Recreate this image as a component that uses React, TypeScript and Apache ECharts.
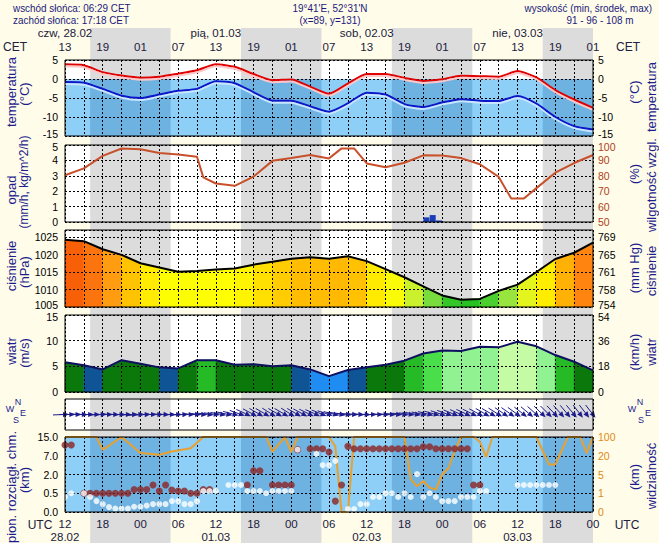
import React, { useEffect, useRef } from "react";
import * as echarts from "echarts";

// ---------- DATA ----------
const hours = [0, 3, 6, 9, 12, 15, 18, 21, 24, 27, 30, 33, 36, 39, 42, 45, 48, 51, 54, 57, 60, 63, 66, 69, 72, 75, 78, 81, 84];
const airTemp = [3.85, 3.6, 1.8, 0.9, 0.35, 0.6, 1.4, 2.3, 3.9, 3.2, 1.3, -0.3, -0.1, -2.0, -3.9, -1.2, 1.3, 1.3, 0.3, -0.5, -0.05, 0.85, 0.75, 0.6, 2.1, 0.4, -2.9, -5.4, -7.6];
const dewPoint = [-0.8, -1.0, -2.6, -4.4, -5.0, -4.1, -3.1, -2.6, -0.6, -1.1, -3.5, -5.7, -5.7, -7.2, -8.6, -6.4, -3.6, -4.1, -6.6, -7.4, -6.2, -5.3, -5.7, -5.8, -4.5, -6.5, -10.0, -12.4, -13.3];
const humHours = [0, 3, 6, 9, 12, 15, 18, 21, 22, 24, 27, 30, 33, 36, 39, 42, 44, 46, 48, 51, 54, 57, 60, 63, 66, 69, 71, 73, 75, 78, 81, 84];
const humidity = [80.4, 84.8, 92.9, 97.7, 97.2, 94.8, 93.9, 92.4, 79, 75, 73.5, 79.5, 89.7, 91.5, 93.5, 91.3, 97.8, 97.8, 88, 85.5, 88.5, 93.3, 93.2, 91.5, 87.5, 79.3, 65.2, 65.2, 72, 82, 88.3, 93.5];
const precipHours = [57.5, 58.5, 59.5];
const precipMm = [0.3, 0.45, 0.1];
const pressure = [1024.2, 1023.8, 1021.5, 1019.9, 1017.5, 1016.3, 1015.1, 1015.3, 1015.7, 1016.0, 1017.1, 1017.9, 1018.8, 1019.2, 1018.8, 1019.5, 1018.1, 1015.8, 1013.5, 1010.9, 1008.3, 1007.1, 1007.3, 1009.6, 1011.4, 1015.0, 1018.7, 1020.5, 1023.4];
const windSpeed = [5.8, 5.2, 4.4, 6.2, 5.5, 4.8, 4.6, 6.2, 6.2, 5.3, 5.4, 5.0, 5.2, 4.4, 3.1, 4.3, 4.8, 5.3, 6.1, 7.5, 8.1, 8.0, 8.8, 8.7, 9.8, 8.9, 7.2, 5.9, 4.2];
const dirHours = [0, 1, 2, 3, 4, 5, 6, 7, 8, 9, 10, 11, 12, 13, 14, 15, 16, 17, 18, 19, 20, 21, 22, 23, 24, 25, 26, 27, 28, 29, 30, 31, 32, 33, 34, 35, 36, 37, 38, 39, 40, 41, 42, 43, 44, 45, 46, 47, 48, 49, 50, 51, 52, 53, 54, 55, 56, 57, 58, 59, 60, 61, 62, 63, 64, 65, 66, 67, 68, 69, 70, 71, 72, 73, 74, 75, 76, 77, 78, 79, 80, 81, 82, 83, 84];
const windDir = [268, 270, 270, 272, 270, 270, 268, 270, 272, 270, 270, 268, 266, 268, 270, 270, 272, 270, 270, 268, 270, 272, 274, 276, 278, 280, 282, 285, 290, 295, 298, 300, 300, 302, 300, 300, 302, 300, 298, 296, 294, 292, 288, 284, 280, 276, 274, 272, 272, 270, 270, 272, 272, 274, 276, 278, 280, 282, 284, 286, 288, 290, 292, 294, 295, 296, 298, 300, 300, 302, 304, 305, 306, 308, 310, 312, 314, 315, 316, 318, 320, 320, 322, 322, 322];
const visHours = [0, 5, 6, 9, 12, 15, 17, 20, 22, 32, 33, 35, 36, 37, 42, 43, 44, 45, 46, 54, 55, 56, 57, 58, 59, 60, 61, 62, 63, 65, 66, 67, 68, 75, 77, 78, 80, 82, 83, 84];
const visKm = [100, 100, 45, 100, 32, 24, 38, 52, 100, 100, 38, 100, 36, 100, 100, 60, 0, 0, 100, 100, 4, 2.5, 3.6, 2.2, 1.8, 5, 10, 40, 100, 100, 80, 19, 100, 100, 13, 13, 100, 100, 31, 100];
const cloudTopHours = [0, 1, 3, 4, 5, 6, 7, 8, 9, 10, 11, 12, 13, 14, 15, 16, 17, 18, 19, 20, 21, 22, 23, 29, 30, 31, 33, 34, 35, 36, 37, 39, 40, 41, 42, 43, 44, 45, 46, 47, 48, 49, 50, 51, 52, 53, 54, 55, 56, 57, 58, 59, 60, 61, 62, 63, 64, 65, 66];
const cloudTopKm = [11.6, 11.6, 0.5, 0.5, 0.5, 0.5, 0.5, 0.5, 0.5, 0.5, 0.8, 0.8, 0.8, 1.16, 0.68, 1.16, 0.75, 0.68, 0.68, 0.5, 0.5, 0.8, 0.8, 1.16, 3.0, 3.0, 1.16, 1.16, 1.16, 1.16, 9.6, 10, 10, 10, 8.6, 0.29, 1.16, 11, 10, 10, 10, 10, 10, 10, 10, 10, 10, 10, 10, 10.8, 10.8, 10, 10, 10, 10, 10, 10, 1.16, 1.16];
const cloudBaseHours = [0, 1, 3, 4, 5, 6, 7, 8, 9, 10, 11, 12, 13, 14, 15, 16, 17, 18, 19, 20, 21, 22, 23, 24, 26, 27, 28, 29, 30, 31, 32, 33, 34, 35, 36, 37, 40, 41, 42, 43, 45, 46, 47, 48, 49, 50, 51, 52, 53, 54, 55, 56, 57, 58, 59, 60, 61, 62, 63, 64, 65, 66, 67, 72, 73, 74, 75, 76, 77, 78];
const cloudBaseKm = [0.4, 0.5, 0.5, 0.4, 0.29, 0.21, 0.13, 0.09, 0.09, 0.09, 0.14, 0.14, 0.17, 0.21, 0.21, 0.21, 0.29, 0.29, 0.21, 0.21, 0.29, 0.68, 0.68, 0.68, 1.16, 1.16, 1.16, 0.68, 0.68, 0.68, 0.5, 0.68, 0.68, 0.68, 0.68, 9.6, 7.8, 4.5, 4.5, 5.6, 0.08, 0.08, 0.21, 0.21, 0.4, 0.4, 0.5, 0.5, 0.4, 0.5, 0.4, 2.1, 0.4, 0.5, 0.4, 0.29, 0.29, 0.29, 0.4, 0.4, 0.4, 0.68, 0.68, 1.16, 1.16, 1.16, 1.16, 1.16, 1.16, 1.16];
const nightStart = [4.0, 28.0, 52.0, 76.0];
const nightEnd = [16.8, 40.8, 64.8, 88.8];
const dayLabelsTop = ["czw, 28.02", "pią, 01.03", "sob, 02.03", "nie, 03.03"];
const dayLabelsBottom = ["28.02", "01.03", "02.03", "03.03"];
const cloudTickValues = [0, 0.5, 2, 7, 15];
const cloudTickLabels = ["0.0", "0.5", "2.0", "7.0", "15.0"];
const visTickValues = [0, 1, 5, 20, 100];
const visTickLabels = ["0", "1", "5", "20", "100"];

// ---------- STYLE ----------
const BG = "#fffcea";
const palette = ["#ffffff", "#dcdcdc", "#8dcff6", "#6eb2e2"];
const SANS = "'Liberation Sans', Arial, sans-serif";
const NAVY = "#1c1c8c";
const TMAX = 84;

const pad = (n: number) => (n < 10 ? "0" + n : "" + n);

function toLevel(v: number, ticks: number[]) {
  for (let i = 0; i < ticks.length - 1; i++) {
    if (v <= ticks[i + 1]) return i + (v - ticks[i]) / (ticks[i + 1] - ticks[i]);
  }
  return ticks.length - 1;
}

function bgRects(yMin: number, yMax: number, blueTop: number | null) {
  const items: number[][] = [];
  const cl = (v: number) => Math.min(TMAX, Math.max(0, v));
  if (blueTop === null || blueTop < yMax) {
    items.push([0, TMAX, yMin, yMax, 0]);
    nightStart.forEach((s, i) => items.push([cl(s), cl(nightEnd[i]), yMin, yMax, 1]));
  }
  if (blueTop !== null) {
    items.push([0, TMAX, yMin, blueTop, 2]);
    nightStart.forEach((s, i) => items.push([cl(s), cl(nightEnd[i]), yMin, blueTop, 3]));
  }
  return items;
}

const rectRender = (params: any, api: any) => {
  const a = api.coord([api.value(0), api.value(3)]);
  const b = api.coord([api.value(1), api.value(2)]);
  return {
    type: "rect",
    shape: { x: a[0], y: a[1], width: b[0] - a[0], height: b[1] - a[1] },
    style: { fill: palette[api.value(4)] },
  };
};

const areaRender = (base: number) => (params: any, api: any) => {
  const p0 = api.coord([api.value(0), api.value(1)]);
  const p1 = api.coord([api.value(2), api.value(3)]);
  const b1 = api.coord([api.value(2), base]);
  const b0 = api.coord([api.value(0), base]);
  const c = api.visual("color");
  return {
    type: "polygon",
    shape: { points: [p0, p1, b1, b0] },
    style: { fill: c, stroke: c, lineWidth: 0.6 },
  };
};

const arrowRender = (params: any, api: any) => {
  const c = api.coord([api.value(0), api.value(1)]);
  const th = ((api.value(2) + 180) * Math.PI) / 180;
  const dx = Math.sin(th);
  const dy = -Math.cos(th);
  const tail = [c[0] - 12 * dx, c[1] - 12 * dy];
  const tip = [c[0] + 4 * dx, c[1] + 4 * dy];
  const hb = [c[0] - 2 * dx, c[1] - 2 * dy];
  const px = -dy;
  const py = dx;
  return {
    type: "group",
    children: [
      { type: "line", shape: { x1: tail[0], y1: tail[1], x2: hb[0], y2: hb[1] }, style: { stroke: NAVY, lineWidth: 1 } },
      {
        type: "polygon",
        shape: { points: [tip, [hb[0] + 2.6 * px, hb[1] + 2.6 * py], [hb[0] - 2.6 * px, hb[1] - 2.6 * py]] },
        style: { fill: NAVY },
      },
    ],
  };
};

function segments(vals: number[]) {
  const out: number[][] = [];
  for (let i = 0; i < hours.length - 1; i++) {
    out.push([hours[i], vals[i], hours[i + 1], vals[i + 1], (vals[i] + vals[i + 1]) / 2]);
  }
  return out;
}

// label formatter that nudges an edge label away from the neighbouring panel
function edgeFmt(edge: "min" | "max" | null, edgeVal: number, fmt: (v: number) => string) {
  return (v: number) => {
    const s = fmt(v);
    if (s === "") return "";
    if (edge === "min" && v === edgeVal) return `{lo|${s}}`;
    if (edge === "max" && v === edgeVal) return `{hi|${s}}`;
    return s;
  };
}
const edgeRich = { lo: { padding: [0, 0, 5, 0] }, hi: { padding: [4, 0, 0, 0] } };

function buildOption() {
  const L = 65;
  const R = 66;
  const panels = [
    { top: 60, height: 76 },
    { top: 145, height: 77 },
    { top: 230, height: 77 },
    { top: 315, height: 77 },
    { top: 399, height: 31 },
    { top: 437, height: 77 },
  ];
  const grid: any[] = panels.map((p) => ({
    left: L, right: R, top: p.top, height: p.height,
    show: true, backgroundColor: "transparent", borderColor: "#000", borderWidth: 1, z: 10,
  }));
  grid.push({ left: L, right: R, top: 28, height: 515, show: false });

  const split = { show: true, lineStyle: { color: "#000", type: [2, 2] as any, width: 1 } };
  const tickLbl = { fontFamily: SANS, fontSize: 10.5, color: "#000", rich: edgeRich };
  const id = (v: number) => String(v);

  const xAxis: any[] = [];
  for (let i = 0; i < 7; i++) {
    const ax: any = {
      gridIndex: i, type: "value", min: 0, max: TMAX, interval: 3, z: 3,
      axisLine: { show: false }, axisTick: { show: false },
      axisLabel: { show: false },
      splitLine: i === 6 ? { show: false } : split,
    };
    if (i === 0) {
      ax.position = "top";
      ax.axisLabel = {
        show: true, margin: 6, fontFamily: SANS, fontSize: 11.5, color: "#202040", lineHeight: 14,
        formatter: (v: number) => {
          if (v % 6 !== 0) return "";
          const s = pad((13 + v) % 24);
          if (v % 24 === 0 && v / 24 < dayLabelsTop.length) return dayLabelsTop[v / 24] + "\n" + s;
          return s;
        },
      };
    }
    if (i === 5) {
      ax.axisLabel = {
        show: true, margin: 5, fontFamily: SANS, fontSize: 11.5, color: "#202040", lineHeight: 13,
        formatter: (v: number) => {
          if (v % 6 !== 0) return "";
          const s = pad((12 + v) % 24);
          if (v % 24 === 0 && v / 24 < dayLabelsBottom.length) return s + "\n" + dayLabelsBottom[v / 24];
          return s;
        },
      };
    }
    xAxis.push(ax);
  }

  const yBase = { type: "value", z: 3, axisLine: { show: false }, axisTick: { show: false } };
  const p5 = (v: number) => (v % 5 === 0 ? String(v) : "");
  const mm = (v: number) => (v % 5 === 0 ? String(Math.round(v * 0.750062)) : "");
  const yAxis: any[] = [
    { ...yBase, gridIndex: 0, min: -15, max: 5, interval: 5, splitLine: split, axisLabel: { ...tickLbl, margin: 7, formatter: edgeFmt("min", -15, id) } },
    { ...yBase, gridIndex: 0, position: "right", min: -15, max: 5, interval: 5, splitLine: { show: false }, axisLabel: { ...tickLbl, margin: 5, formatter: edgeFmt("min", -15, id) } },
    { ...yBase, gridIndex: 1, min: 0, max: 5, interval: 1, splitLine: split, axisLabel: { ...tickLbl, margin: 7, formatter: edgeFmt("max", 5, id) } },
    { ...yBase, gridIndex: 1, position: "right", min: 50, max: 100, interval: 10, splitLine: { show: false }, axisLabel: { ...tickLbl, color: "#b0401c", margin: 5, formatter: edgeFmt("max", 100, id) } },
    { ...yBase, gridIndex: 2, min: 1005, max: 1027, interval: 5, splitLine: split, axisLabel: { ...tickLbl, margin: 7, formatter: edgeFmt("min", 1005, p5) } },
    { ...yBase, gridIndex: 2, position: "right", min: 1005, max: 1027, interval: 5, splitLine: { show: false }, axisLabel: { ...tickLbl, margin: 5, formatter: edgeFmt("min", 1005, mm) } },
    { ...yBase, gridIndex: 3, min: 0, max: 15, interval: 5, splitLine: split, axisLabel: { ...tickLbl, margin: 7, formatter: edgeFmt("max", 15, id) } },
    { ...yBase, gridIndex: 3, position: "right", min: 0, max: 54, interval: 18, splitLine: { show: false }, axisLabel: { ...tickLbl, margin: 5, formatter: edgeFmt("max", 54, id) } },
    { ...yBase, gridIndex: 4, min: -1, max: 1, show: false },
    {
      ...yBase, gridIndex: 5, min: 0, max: 4, interval: 1, splitLine: split,
      axisLabel: { ...tickLbl, margin: 7, formatter: (v: number) => cloudTickLabels[v] ?? "" },
    },
    {
      ...yBase, gridIndex: 5, position: "right", min: 0, max: 4, interval: 1, splitLine: { show: false },
      axisLabel: { ...tickLbl, color: "#e08a10", margin: 5, formatter: (v: number) => visTickLabels[v] ?? "" },
    },
    { ...yBase, gridIndex: 6, min: 0, max: 1, show: false },
  ];

  const series: any[] = [];
  const bgNight: number[][] = nightStart.map((s, i) => [s, Math.min(TMAX, nightEnd[i]), 0, 1, 1]);
  series.push({ type: "custom", xAxisIndex: 6, yAxisIndex: 11, renderItem: rectRender, data: bgNight, z: 0, silent: true, encode: { x: [0, 1], y: [2, 3] } });

  const panelBgs: [number, number, number, number, number | null][] = [
    [0, 0, -15, 5, 0],
    [1, 2, 0, 5, null],
    [2, 4, 1005, 1027, null],
    [3, 6, 0, 15, null],
    [4, 8, -1, 1, null],
    [5, 9, 0, 4, 4],
  ];
  panelBgs.forEach(([xi, yi, mn, mx, blue]) => {
    series.push({
      type: "custom", xAxisIndex: xi, yAxisIndex: yi, renderItem: rectRender,
      data: bgRects(mn, mx, blue), z: 1, silent: true, encode: { x: [0, 1], y: [2, 3] },
    });
  });

  series.push({
    type: "line", xAxisIndex: 0, yAxisIndex: 0, data: hours.map((h, i) => [h, airTemp[i]]), symbol: "none", z: 5, smooth: 0.2,
    lineStyle: { color: "#e00000", width: 2, shadowColor: "rgba(255,200,200,1)", shadowOffsetY: 2, shadowBlur: 0 },
  });
  series.push({
    type: "line", xAxisIndex: 0, yAxisIndex: 0, data: hours.map((h, i) => [h, dewPoint[i]]), symbol: "none", z: 5, smooth: 0.2,
    lineStyle: { color: "#0a14c8", width: 2, shadowColor: "rgba(200,230,255,1)", shadowOffsetY: 2, shadowBlur: 0 },
  });
  series.push({
    type: "bar", xAxisIndex: 1, yAxisIndex: 2, data: precipHours.map((h, i) => [h, precipMm[i]]),
    barWidth: 6, itemStyle: { color: "#1a3cb8" }, z: 4,
  });
  series.push({
    type: "line", xAxisIndex: 1, yAxisIndex: 3, data: humHours.map((h, i) => [h, humidity[i]]), symbol: "none", z: 5,
    lineStyle: { color: "#c8502a", width: 2 },
  });
  const pressFillIdx = series.length;
  series.push({
    type: "custom", xAxisIndex: 2, yAxisIndex: 4, renderItem: areaRender(1005), data: segments(pressure), z: 2, silent: true,
    encode: { x: [0, 2], y: [1, 3] },
  });
  series.push({
    type: "line", xAxisIndex: 2, yAxisIndex: 4, data: hours.map((h, i) => [h, pressure[i]]), symbol: "none", z: 5,
    lineStyle: { color: "#000", width: 2 },
  });
  const windFillIdx = series.length;
  series.push({
    type: "custom", xAxisIndex: 3, yAxisIndex: 6, renderItem: areaRender(0), data: segments(windSpeed), z: 2, silent: true,
    encode: { x: [0, 2], y: [1, 3] },
  });
  series.push({
    type: "line", xAxisIndex: 3, yAxisIndex: 6, data: hours.map((h, i) => [h, windSpeed[i]]), symbol: "none", z: 5,
    lineStyle: { color: "#101060", width: 2 },
  });
  series.push({
    type: "custom", xAxisIndex: 4, yAxisIndex: 8, renderItem: arrowRender, data: dirHours.map((h, i) => [h, 0, windDir[i]]),
    z: 5, silent: true, clip: false, encode: { x: 0, y: 1 },
  });
  series.push({
    type: "line", xAxisIndex: 5, yAxisIndex: 10, data: visHours.map((h, i) => [h, toLevel(visKm[i], visTickValues)]),
    symbol: "none", z: 5, lineStyle: { color: "#e8a030", width: 2 },
  });
  series.push({
    type: "scatter", xAxisIndex: 5, yAxisIndex: 9, data: cloudTopHours.map((h, i) => [h, toLevel(cloudTopKm[i], cloudTickValues)]),
    symbol: "circle", symbolSize: 7, itemStyle: { color: "#8c2424" }, z: 6,
  });
  series.push({
    type: "scatter", xAxisIndex: 5, yAxisIndex: 9, data: cloudBaseHours.map((h, i) => [h, toLevel(cloudBaseKm[i], cloudTickValues)]),
    symbol: "circle", symbolSize: 6, itemStyle: { color: "#ffffff" }, z: 6,
  });

  const visualMap = [
    {
      type: "continuous", show: false, seriesIndex: pressFillIdx, dimension: 4, min: 1007, max: 1023.5,
      inRange: { color: ["#20c020", "#4cd030", "#88e040", "#b8ee38", "#e0f420", "#fafc08", "#ffff00", "#ffe000", "#ffbc00", "#ffa010", "#ff8410", "#f86008"] },
    },
    {
      type: "piecewise", show: false, seriesIndex: windFillIdx, dimension: 4,
      pieces: [
        { lt: 4.2, color: "#1e8cf0" },
        { gte: 4.2, lt: 5, color: "#0f5596" },
        { gte: 5, lt: 6, color: "#0a780a" },
        { gte: 6, lt: 7, color: "#26bb26" },
        { gte: 7, lt: 8, color: "#4ade4a" },
        { gte: 8, lt: 9, color: "#90f290" },
        { gte: 9, lt: 9.7, color: "#c6fba6" },
        { gte: 9.7, color: "#ffff50" },
      ],
    },
  ];

  const hdr = (text: string, x: number, y: number, align: string) => ({
    type: "text", x, y, scaleX: 0.86, silent: true,
    style: { text, align, verticalAlign: "middle", fill: "#1a1a7a", font: `11.5px ${SANS}` },
  });
  const rot = (text: string, x: number, y: number, size = 13) => ({
    type: "text", x, y, rotation: Math.PI / 2, silent: true,
    style: { text, align: "center", verticalAlign: "middle", fill: NAVY, font: `${size}px ${SANS}` },
  });
  const small = (text: string, x: number, y: number) => ({
    type: "text", x, y, silent: true,
    style: { text, align: "center", verticalAlign: "middle", fill: NAVY, font: `9px ${SANS}`, lineHeight: 8 },
  });
  const lbl = (text: string, x: number, y: number) => ({
    type: "text", x, y, silent: true,
    style: { text, align: "center", verticalAlign: "middle", fill: "#202040", font: `12px ${SANS}` },
  });

  const graphic = [
    hdr("wschód słońca: 06:29 CET", 13, 8, "left"),
    hdr("zachód słońca: 17:18 CET", 13, 20, "left"),
    hdr("19°41'E, 52°31'N", 330, 8, "center"),
    hdr("(x=89, y=131)", 330, 20, "center"),
    hdr("wysokość (min, środek, max)", 652, 8, "right"),
    hdr("91 - 96 - 108 m", 600, 20, "center"),
    lbl("CET", 15, 47), lbl("CET", 628, 47), lbl("UTC", 40, 525), lbl("UTC", 627, 525),
    rot("temperatura", 11, 92), rot("(°C)", 24, 94),
    rot("opad", 11, 190), rot("(mm/h, kg/m^2/h)", 24, 182, 12),
    rot("ciśnienie", 11, 266), rot("(hPa)", 24, 272),
    rot("wiatr", 11, 351), rot("(m/s)", 24, 353),
    rot("pion. rozciągł. chm.", 11, 487), rot("(km)", 24, 480),
    rot("temperatura", 651, 97), rot("(°C)", 634, 92),
    rot("wilgotność wzgl.", 651, 185), rot("(%)", 634, 174),
    rot("ciśnienie", 651, 271), rot("(mm Hg)", 634, 268),
    rot("wiatr", 651, 352), rot("(km/h)", 634, 352),
    rot("widzialność", 651, 476), rot("(km)", 634, 477),
    small("N", 18, 402), small("W", 10, 409), small("E", 23, 413), small("S", 16, 420),
    small("N", 640, 402), small("W", 632, 409), small("E", 648, 413), small("S", 641, 420),
  ];

  return {
    animation: false,
    backgroundColor: BG,
    grid, xAxis, yAxis, series, visualMap, graphic,
  };
}

export default function App() {
  const ref = useRef<HTMLDivElement>(null);
  useEffect(() => {
    const chart = echarts.init(ref.current!, null, { renderer: "svg" });
    chart.setOption(buildOption() as any);
    return () => chart.dispose();
  }, []);
  return <div ref={ref} style={{ position: "absolute", left: 0, top: 0, width: 659, height: 543 }} />;
}
